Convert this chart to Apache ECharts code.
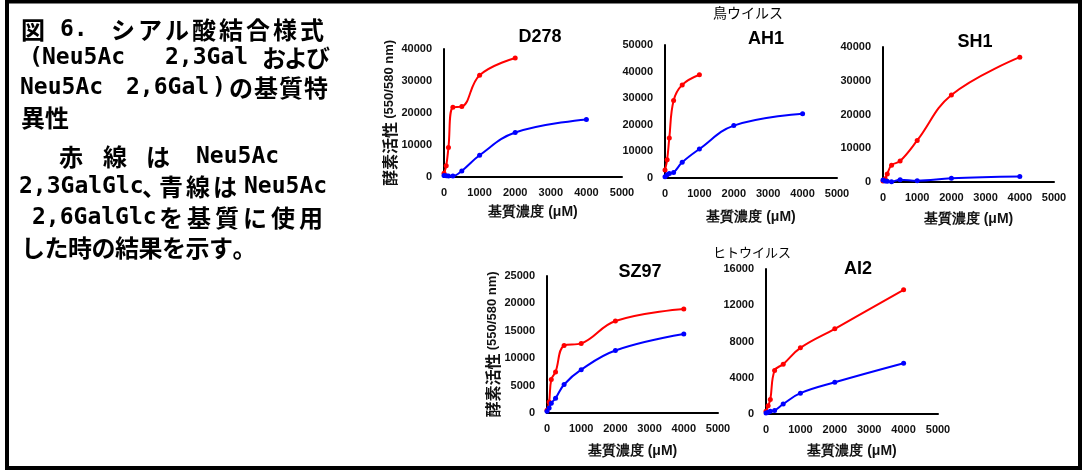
<!DOCTYPE html>
<html><head><meta charset="utf-8">
<script src="https://cdn.jsdelivr.net/npm/echarts@6/dist/echarts.min.js"></script>
<style>html,body{margin:0;padding:0;background:#fff}#c{width:1088px;height:473px}</style>
</head><body><div id="c"></div>
<script>
// ---- data ----
const conc = [0, 62.5, 125, 250, 500, 1000, 2000, 4000];
const xTickMax = 5000, xTickStep = 1000;
const chartNames = ['D278', 'AH1', 'SH1', 'SZ97', 'AI2'];
const yMaxes = [40000, 50000, 40000, 25000, 16000];
const yIntervals = [10000, 10000, 10000, 5000, 4000];
const d278Red  = [1200, 3500, 9200, 21800, 22000, 31800, 37200];
const d278Blue = [500, 400, 300, 300, 1900, 6800, 13900, 18000];
const ah1Red   = [3000, 6900, 15000, 29100, 35000, 38800];
const ah1Blue  = [500, 1200, 1700, 2100, 5900, 10900, 19700, 24200];
const sh1Red   = [300, 1000, 2400, 5000, 6200, 12300, 25800, 37000];
const sh1Blue  = [600, 300, 200, 100, 700, 400, 1100, 1600];
const sz97Red  = [500, 2000, 6100, 7500, 12300, 12700, 16800, 19000];
const sz97Blue = [300, 900, 1800, 2700, 5200, 7900, 11400, 14400];
const ai2Red   = [300, 900, 1600, 4800, 5500, 7300, 9400, 13700];
const ai2Blue  = [100, 200, 300, 400, 1100, 2300, 3500, 5600];
const redSets  = [d278Red, ah1Red, sh1Red, sz97Red, ai2Red];
const blueSets = [d278Blue, ah1Blue, sh1Blue, sz97Blue, ai2Blue];
const yNameCjk = '酵素活性';
const yNameLat = '(550/580 nm)';
const xName = '基質濃度 (μM)';
const groupBird = '鳥ウイルス';
const groupHuman = 'ヒトウイルス';

// ---- layout ----
const grids = [
  {left: 444, top: 49, width: 178, height: 128},
  {left: 665, top: 45, width: 172, height: 133},
  {left: 883, top: 47, width: 171, height: 135},
  {left: 547, top: 276, width: 171, height: 137},
  {left: 766, top: 269, width: 172, height: 145}
];
const titlePos = [[540, 37], [766, 39], [975, 42], [640, 272], [858, 269]];
const showYName = [true, false, false, true, false];
const xNameGap = [28, 32, 30, 31, 30];

const AX = "Arial, 'Liberation Sans', sans-serif";
const CJK = "'Noto Sans CJK JP', sans-serif";
const LAT = "'DejaVu Sans Mono', 'Liberation Mono', monospace";

const xAxes = [], yAxes = [], series = [];
grids.forEach((g, i) => {
  xAxes.push({
    type: 'value', gridIndex: i, min: 0, max: xTickMax, interval: xTickStep,
    axisLine: {show: true, onZero: false, lineStyle: {color: '#000', width: 2}},
    axisTick: {show: false}, splitLine: {show: false},
    axisLabel: {color: '#111', fontSize: 11, fontWeight: 'bold', fontFamily: AX, margin: 10,
      formatter: v => String(v)},
    name: xName, nameLocation: 'middle', nameGap: xNameGap[i],
    nameTextStyle: {color: '#111', fontSize: 14, fontWeight: 'bold', fontFamily: AX}
  });
  yAxes.push({
    type: 'value', gridIndex: i, min: 0, max: yMaxes[i], interval: yIntervals[i],
    axisLine: {show: true, lineStyle: {color: '#000', width: 2}},
    axisTick: {show: false}, splitLine: {show: false},
    axisLabel: {color: '#111', fontSize: 11, fontWeight: 'bold', fontFamily: AX, margin: 12,
      formatter: v => String(v)},
    name: showYName[i] ? '{c|' + yNameCjk + '} {l|' + yNameLat + '}' : '',
    nameLocation: 'middle', nameGap: 38, nameRotate: 90,
    nameTextStyle: {color: '#111', fontWeight: 'bold',
      rich: {
        c: {fontSize: 16, fontWeight: 'bold', fontFamily: CJK, color: '#111'},
        l: {fontSize: 13, fontWeight: 'bold', fontFamily: AX, color: '#111'}
      }}
  });
  [[redSets[i], '#ff0000'], [blueSets[i], '#0000ff']].forEach(([vals, col]) => {
    series.push({
      type: 'line', xAxisIndex: i, yAxisIndex: i, smooth: 0.4,
      data: vals.map((v, k) => [conc[k], v]),
      symbol: 'circle', symbolSize: 5, showSymbol: true,
      itemStyle: {color: col}, lineStyle: {color: col, width: 2},
      clip: false, z: 3
    });
  });
});

// ---- text block (left) ----
const noteLines = [
  {y: 30, segs: [{x: 21, t: '図'}, {x: 60, t: '6.', lat: 1}, {x: 111, t: 'シアル酸結合様式', p: 27}]},
  {y: 58, segs: [{x: 29, t: '(', lat: 1}, {x: 42, t: 'Neu5Ac', lat: 1}, {x: 165, t: '2,3Gal', lat: 1}, {x: 262, t: 'および', p: 22}]},
  {y: 88, segs: [{x: 20, t: 'Neu5Ac', lat: 1}, {x: 126, t: '2,6Gal', lat: 1}, {x: 212, t: ')', lat: 1}, {x: 229, t: 'の基質特', p: 25}]},
  {y: 118, segs: [{x: 21, t: '異性', p: 24}]},
  {y: 157, segs: [{x: 59, t: '赤'}, {x: 103, t: '線'}, {x: 146, t: 'は'}, {x: 196, t: 'Neu5Ac', lat: 1}]},
  {y: 187, segs: [{x: 19, t: '2,3GalGlc', lat: 1}, {x: 142, t: '、'}, {x: 159, t: '青線は', p: 27}, {x: 244, t: 'Neu5Ac', lat: 1}]},
  {y: 218, segs: [{x: 32, t: '2,6GalGlc', lat: 1}, {x: 159, t: 'を基質に使用', p: 28}]},
  {y: 248, segs: [{x: 21, t: 'した時の結果を示す。', p: 23.5}]}
];
const graphics = [{
  type: 'rect', shape: {x: 7, y: 1.5, width: 1073, height: 466.5},
  style: {fill: 'none', stroke: '#000', lineWidth: 4}, z: 10
}];
function addText(x, y, t, font, size, weight, align) {
  graphics.push({type: 'text', x: x, y: y, style: {
    text: t, fill: '#000', fontFamily: font, fontSize: size, fontWeight: weight,
    align: align || 'left', verticalAlign: 'middle'}});
}
noteLines.forEach(line => {
  line.segs.forEach(s => {
    const font = s.lat ? LAT : CJK;
    const size = s.lat ? 23 : 24;
    if (s.p) {
      Array.from(s.t).forEach((ch, k) => addText(s.x + k * s.p, line.y, ch, font, size, 'bold'));
    } else {
      addText(s.x, line.y, s.t, font, size, 'bold');
    }
  });
});
chartNames.forEach((n, i) => addText(titlePos[i][0], titlePos[i][1], n, AX, 18, 'bold', 'center'));
addText(748, 13, groupBird, CJK, 14, 'normal', 'center');
addText(752, 252, groupHuman, CJK, 13, 'normal', 'center');

const chart = echarts.init(document.getElementById('c'), null, {renderer: 'canvas'});
chart.setOption({
  animation: false, backgroundColor: '#fff',
  grid: grids, xAxis: xAxes, yAxis: yAxes, series: series, graphic: graphics
});
</script></body></html>
